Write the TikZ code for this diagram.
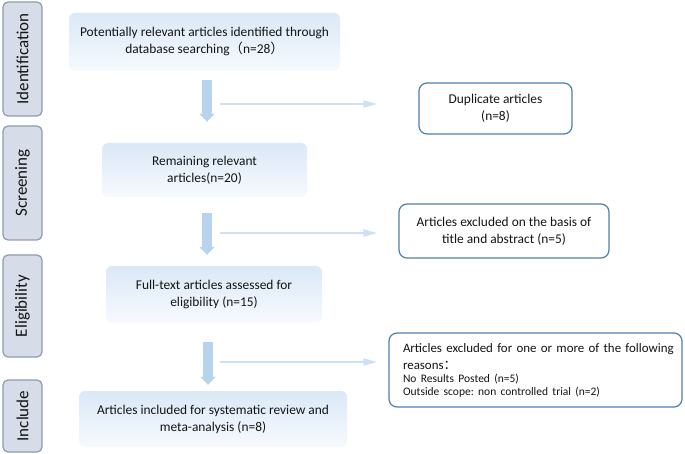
\documentclass[tikz,border=0pt]{standalone}
\usepackage{fontspec}
\setmainfont{Carlito}
\newfontfamily\cjk{Noto Sans CJK SC}
\usetikzlibrary{arrows.meta,calc}
\frenchspacing
\hbadness=10000 \hfuzz=20pt
\definecolor{tabfill}{RGB}{214,221,232}
\definecolor{tabdraw}{RGB}{140,155,176}
\definecolor{sidedraw}{RGB}{79,125,176}
\definecolor{fatblue}{RGB}{184,211,238}
\definecolor{thinblue}{RGB}{206,224,243}
\definecolor{boxtop}{RGB}{218,232,247}
\definecolor{boxbot}{RGB}{247,250,254}
\definecolor{txt}{RGB}{20,20,20}
\begin{document}
\begin{tikzpicture}[x=1pt,y=-1pt,
  tab/.style={draw=tabdraw, fill=tabfill, line width=1.2pt, rounded corners=5pt,
    rotate=90, minimum height=39pt, inner sep=0pt, text=txt,
    font=\fontsize{17}{19}\selectfont},
  mainbox/.style={rounded corners=6pt, top color=boxtop, bottom color=boxbot,
    align=center, inner sep=0pt, text=txt, font=\fontsize{13.4}{17}\selectfont},
  sidebox/.style={draw=sidedraw, fill=white, line width=1.2pt, rounded corners=8pt,
    align=center, inner sep=0pt, text=txt, font=\fontsize{13.4}{17}\selectfont},
  fatarrow/.style={draw=fatblue, line width=10pt,
    -{Triangle[length=8pt,width=15pt]}},
  thinarrow/.style={draw=thinblue, line width=2pt,
    -{Triangle[length=14pt,width=7pt]}}
]
\useasboundingbox (0,0) rectangle (685,454);

% stage tabs
\node[tab, minimum width=114pt] (t1) at (22.5,59) {Identification};
\node[tab, minimum width=114pt] (t2) at (22.5,183) {Screening};
\node[tab, minimum width=102pt] (t3) at (22.5,306) {Eligibility};
\node[tab, minimum width=72pt] (t4) at (22.5,416) {Include};

% main column
\node[mainbox, minimum width=271pt, minimum height=58pt] (b1) at (204.5,42)
  {Potentially relevant articles identified through\\database searching{\cjk （}n=28{\cjk ）}};
\node[mainbox, minimum width=205pt, minimum height=54pt] (b2) at (204.5,170)
  {Remaining relevant\\articles(n=20)};
\node[mainbox, minimum width=216pt, minimum height=57pt] (b3) at (214,294.5)
  {Full-text articles assessed for\\eligibility (n=15)};
\node[mainbox, minimum width=268pt, minimum height=56pt] (b4) at (213,419)
  {Articles included for systematic review and\\meta-analysis (n=8)};

% side boxes
\node[sidebox, minimum width=153pt, minimum height=51pt] (d1) at (495.5,108.5)
  {Duplicate articles\\(n=8)};
\node[sidebox, minimum width=210pt, minimum height=54pt] (d2) at (504,231)
  {Articles excluded on the basis of\\title and abstract (n=5)};
\node[sidebox, minimum width=293pt, minimum height=74pt, align=left, text width=265pt,
      font=\fontsize{12.9}{16}\selectfont] (d3) at (535.5,370)
  {\mbox{Articles excluded for one or more of the following}\\[1pt]
   reasons{\cjk ：}\\[-3pt]
   {\fontsize{11.5}{13}\selectfont No Results Posted (n=5)}\\[-3pt]
   {\fontsize{11.5}{13}\selectfont Outside scope: non controlled trial (n=2)}};

% fat down arrows
\draw[fatarrow] ($(b1.south)+(2.5,9)$) -- ($(b2.north)+(2.5,-21)$);
\draw[fatarrow] ($(b2.south)+(2.5,16)$) -- ($(b3.north)+(-7,-11)$);
\draw[fatarrow] ($(b3.south)+(-6,19)$) -- ($(b4.north)+(-5,-6)$);

% thin side arrows
\coordinate (h1) at (220,104);
\coordinate (h2) at (220,233);
\coordinate (h3) at (220,362);
\draw[thinarrow, shorten >=41pt] (h1) -- (h1 -| d1.west);
\draw[thinarrow, shorten >=21pt] (h2) -- (h2 -| d2.west);
\draw[thinarrow, shorten >=11pt] (h3) -- (h3 -| d3.west);
\end{tikzpicture}
\end{document}
